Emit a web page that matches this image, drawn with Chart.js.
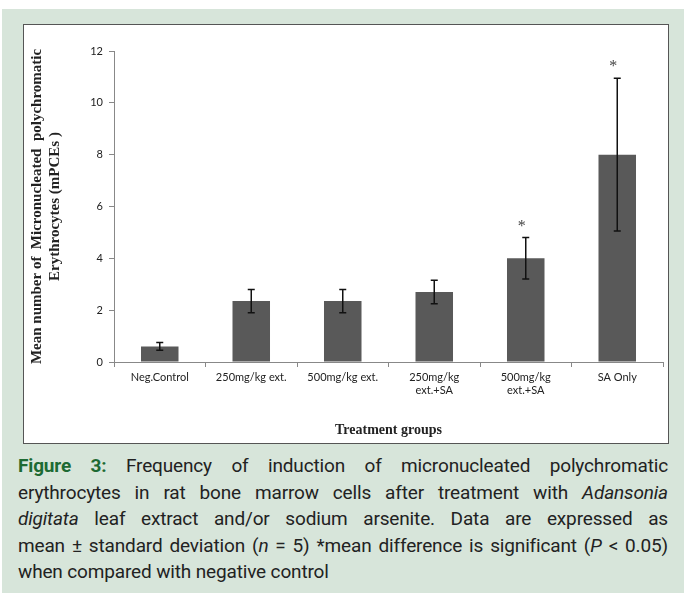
<!DOCTYPE html>
<html>
<head>
<meta charset="utf-8">
<script src="https://cdn.jsdelivr.net/npm/chart.js@4.4.0/dist/chart.umd.min.js"></script>
<style>
    body {margin: 0; background: #fff; width: 684px; height: 593px; overflow: hidden;}
    .panel {position: absolute; left: 2px; top: 9px; width: 682px; height: 584px; background: #d7e5da;}
    .box {position: absolute; left: 23px; top: 24px; width: 644px; height: 418px; background: #fff; border: 1px solid #555;}
    .caption {position: absolute; left: 18px; top: 453px; width: 650px; font-family: Roboto, 'Noto Sans', sans-serif;
        font-size: 19px; line-height: 26.5px; color: #222; letter-spacing: -0.15px;}
    .caption div {text-align: justify; text-align-last: justify; white-space: nowrap;}
    .caption div.last {text-align-last: left;}
    .caption b {color: #1d6a33;}
</style>
</head>
<body>
<div class="panel"></div>
<div class="box"><canvas id="chart" width="644" height="418"></canvas></div>
<div class="caption">
    <div><b>Figure 3:</b> Frequency of induction of micronucleated polychromatic</div>
    <div>erythrocytes in rat bone marrow cells after treatment with <i>Adansonia</i></div>
    <div><i>digitata</i> leaf extract and/or sodium arsenite. Data are expressed as</div>
    <div>mean ± standard deviation (<i>n</i> = 5) *mean difference is significant (<i>P</i> &lt; 0.05)</div>
    <div class="last">when compared with negative control</div>
</div>

<script>
    // values
    const groups = ['Neg.Control', '250mg/kg ext.', '500mg/kg ext.', ['250mg/kg', 'ext.+SA'], ['500mg/kg', 'ext.+SA'], 'SA Only'];
    const means = [0.6, 2.35, 2.35, 2.7, 4.0, 8.0];
    const sds = [0.15, 0.45, 0.45, 0.45, 0.8, 2.95];
    const signif = ['', '', '', '', '*', '*'];
    const yTicks = [0, 2, 4, 6, 8, 10, 12];

    const errorBars = {
        id: 'errorBars',
        afterDatasetsDraw(chart) {
            const ctx = chart.ctx;
            const x = chart.scales.x, y = chart.scales.y;
            ctx.save();
            ctx.strokeStyle = '#111';
            ctx.lineWidth = 1.5;
            means.forEach((m, i) => {
                let px = x.getPixelForValue(i);
                let top = y.getPixelForValue(m + sds[i]);
                let bot = y.getPixelForValue(m - sds[i]);
                ctx.beginPath();
                ctx.moveTo(px, top); ctx.lineTo(px, bot);
                ctx.moveTo(px - 3.5, top); ctx.lineTo(px + 3.5, top);
                ctx.moveTo(px - 3.5, bot); ctx.lineTo(px + 3.5, bot);
                ctx.stroke();
                if (signif[i]) {
                    ctx.fillStyle = '#444';
                    ctx.font = '16px "Liberation Serif"';
                    ctx.textAlign = 'center';
                    ctx.textBaseline = 'bottom';
                    ctx.fillText(signif[i], px - 4, top - 3);
                }
            });
            ctx.restore();
        }
    };

    new Chart(document.getElementById('chart'), {
        type: 'bar',
        data: {
            labels: groups,
            datasets: [{
                data: means,
                backgroundColor: '#595959',
                borderWidth: 0,
                categoryPercentage: 1,
                barPercentage: 0.41
            }]
        },
        options: {
            responsive: false,
            animation: false,
            layout: {padding: {top: 26, right: 5}},
            plugins: {legend: {display: false}, tooltip: {enabled: false}},
            scales: {
                x: {
                    grid: {display: true, drawOnChartArea: false, color: '#888', tickLength: 5},
                    border: {color: '#888'},
                    ticks: {color: '#222', font: {family: 'Lato', size: 11}, maxRotation: 0, padding: 4},
                    title: {display: true, text: 'Treatment groups', color: '#222',
                        font: {family: 'Liberation Serif', size: 14, weight: 'bold'}, padding: {top: 18}},
                    afterFit(s) { s.height = 81; }
                },
                y: {
                    min: 0, max: 12,
                    afterBuildTicks(s) { s.ticks = yTicks.map(v => ({value: v})); },
                    grid: {display: true, drawOnChartArea: false, color: '#888', tickLength: 5},
                    border: {color: '#888'},
                    ticks: {color: '#222', font: {family: 'Lato', size: 11}, padding: 6},
                    title: {display: true, text: ['Mean number of  Micronucleated  polychromatic', 'Erythrocytes (mPCEs )'],
                        color: '#222', font: {family: 'Liberation Serif', size: 15, weight: 'bold'}, padding: {bottom: 12}},
                    afterFit(s) { s.width = 90; s.paddingTop = 0; s.paddingBottom = 0; }
                }
            }
        },
        plugins: [errorBars]
    });
</script>
</body>
</html>
